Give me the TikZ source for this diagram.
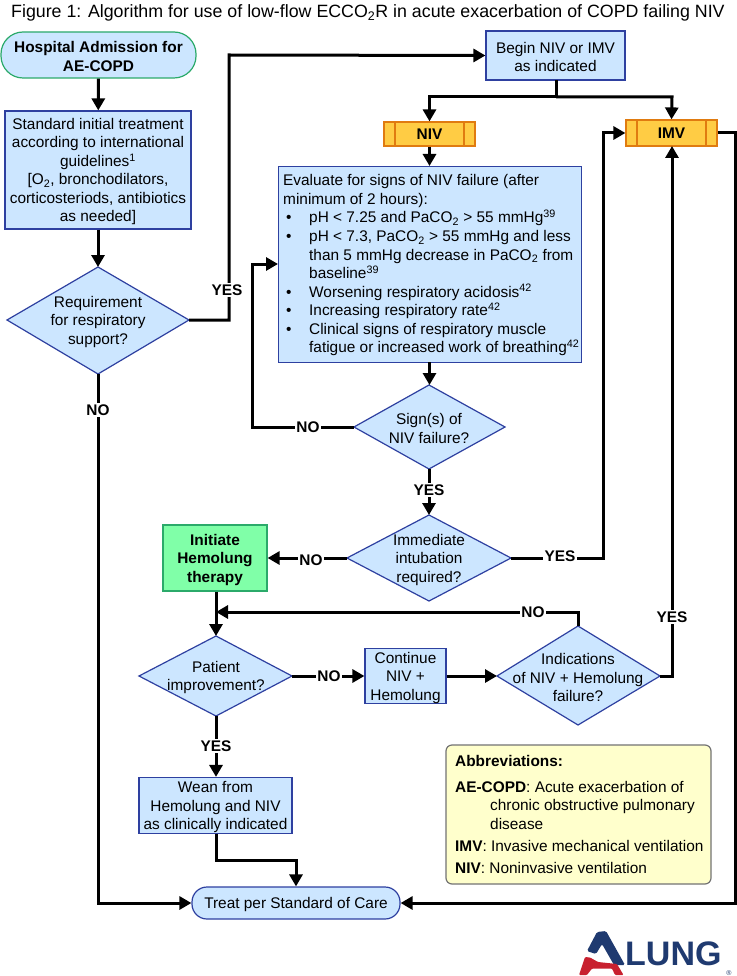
\documentclass[tikz,border=0pt]{standalone}
\usepackage{fontspec}
\setmainfont{Liberation Sans}
\usetikzlibrary{arrows.meta,shapes.geometric,calc}
\definecolor{bfill}{HTML}{CCE6FF}
\definecolor{bline}{HTML}{2E40A0}
\definecolor{gline}{HTML}{2BAA6A}
\definecolor{hfill}{HTML}{80FFA8}
\definecolor{ofill}{HTML}{FFCC44}
\definecolor{oline}{HTML}{E07B10}
\definecolor{yfill}{HTML}{FFFFCC}
\definecolor{logoblue}{HTML}{1F3A70}
\definecolor{logored}{HTML}{C8202F}
\newcommand{\sub}[1]{\textsubscript{#1}}
\newcommand{\sups}[1]{\textsuperscript{#1}}
\newcommand{\fl}{\rule{0pt}{14.5pt}}
\tikzset{
  x=1pt,y=-1pt,
  txt/.style={font=\fontsize{15.4}{18.5}\selectfont,align=center,inner sep=0pt,execute at begin node={\rule{0pt}{15pt}}},
  bx/.style={draw=bline,fill=bfill,line width=1.2pt,txt},
  dia/.style={bx},
  conn/.style={line width=3pt,draw=black,-{Triangle[length=12pt,width=13pt]}},
  plain/.style={line width=3pt,draw=black},
  lab/.style={fill=white,inner sep=1.5pt,font=\fontsize{15.4}{18.5}\selectfont\bfseries},
  orange/.style={draw=oline,fill=ofill,line width=1.2pt},
}
\begin{document}
\begin{tikzpicture}
\useasboundingbox (0,0) rectangle (736,976);
\fill[white] (0,0) rectangle (736,976);
\node[anchor=west,inner sep=0pt,font=\fontsize{17.8}{20}\selectfont] (title) at (11,13) {Figure 1: Algorithm for use of low-flow ECCO\sub{2}R in acute exacerbation of COPD failing NIV};

% boxes
\node[bx,draw=gline,rounded corners=22pt,minimum width=195pt,minimum height=46pt,font=\fontsize{15.4}{18.5}\selectfont\bfseries] (start) at (98.5,55) {\fl Hospital Admission for\\AE-COPD};
\node[bx,minimum width=186pt,minimum height=118pt] (std) at (98,170) {\fl Standard initial treatment\\according to international\\guidelines\sups{1}\\{[O\sub{2}, bronchodilators,}\\corticosteriods, antibiotics\\as needed]};
\path[draw=bline,fill=bfill,line width=1.2pt] (7,320) -- (98,267) -- (189,320) -- (98,374) -- cycle;
\node[txt] (req) at (98,320) {\fl Requirement\\for respiratory\\support?};
\coordinate (reqW) at (7,320);\coordinate (reqE) at (189,320);\coordinate (reqS) at (98,374);\coordinate (reqN) at (98,267);

\node[bx,minimum width=139pt,minimum height=49pt] (begin) at (555.5,55.5) {\fl Begin NIV or IMV\\as indicated};

\node[orange,minimum width=91pt,minimum height=24pt,inner sep=0pt,font=\fontsize{15.4}{18.5}\selectfont\bfseries] (niv) at (429.5,134) {NIV};
\draw[oline,line width=1.2pt] (395,122) -- (395,146) (464,122) -- (464,146);
\node[orange,minimum width=91pt,minimum height=26pt,inner sep=0pt,font=\fontsize{15.4}{18.5}\selectfont\bfseries] (imv) at (671.5,133) {IMV};
\draw[oline,line width=1.2pt] (637,120) -- (637,146) (706,120) -- (706,146);

\node[draw=bline,fill=bfill,line width=1.2pt,minimum width=303pt,minimum height=196pt,inner sep=0pt,anchor=north west] (eval) at (278,166) {};
\begin{scope}[every node/.style={anchor=base west,inner sep=0pt,font=\fontsize{15.4}{18.5}\selectfont}]
\node (e1) at (283,186) {Evaluate for signs of NIV failure (after};
\node (e2) at (283,204.5) {minimum of 2 hours):};
\node (b1) at (286,223) {•}; \node (t1) at (309,223) {pH < 7.25 and PaCO\sub{2} > 55 mmHg\sups{39}};
\node (b2) at (286,241.5) {•}; \node (t2) at (309,241.5) {pH < 7.3, PaCO\sub{2} > 55 mmHg and less};
\node (t3) at (309,260) {than 5 mmHg decrease in PaCO\sub{2} from};
\node (t4) at (309,278.5) {baseline\sups{39}};
\node (b3) at (286,297) {•}; \node (t5) at (309,297) {Worsening respiratory acidosis\sups{42}};
\node (b4) at (286,315.5) {•}; \node (t6) at (309,315.5) {Increasing respiratory rate\sups{42}};
\node (b5) at (286,334) {•}; \node (t7) at (309,334) {Clinical signs of respiratory muscle};
\node (t8) at (309,352.5) {fatigue or increased work of breathing\sups{42}};
\end{scope}

\path[draw=bline,fill=bfill,line width=1.2pt] (354,427) -- (429,385) -- (505,427) -- (429,469) -- cycle;
\node[txt] (sign) at (429,427) {\fl Sign(s) of\\NIV failure?};
\coordinate (signW) at (354,427);\coordinate (signS) at (429,469);\coordinate (signN) at (429,385);

\path[draw=bline,fill=bfill,line width=1.2pt] (347,558) -- (429,515) -- (511,558) -- (429,601) -- cycle;
\node[txt] (imm) at (429,558) {\fl Immediate\\intubation\\required?};
\coordinate (immW) at (347,558);\coordinate (immE) at (511,558);\coordinate (immN) at (429,515);

\node[bx,draw=gline,fill=hfill,minimum width=104pt,minimum height=66pt,font=\fontsize{15.4}{18.5}\selectfont\bfseries] (init) at (215,558) {\fl Initiate\\Hemolung\\therapy};

\path[draw=bline,fill=bfill,line width=1.2pt] (139,676) -- (216,636) -- (292,676) -- (216,716) -- cycle;
\node[txt] (pat) at (216,676) {\fl Patient\\improvement?};
\coordinate (patE) at (292,676);\coordinate (patS) at (216,716);\coordinate (patN) at (216,636);

\node[bx,minimum width=81pt,minimum height=55pt] (cont) at (405.5,676) {\fl Continue\\NIV +\\Hemolung};

\path[draw=bline,fill=bfill,line width=1.2pt] (497,676) -- (578,626) -- (660,676) -- (578,725) -- cycle;
\node[txt] (ind) at (578,676) {\fl Indications\\of NIV + Hemolung\\failure?};
\coordinate (indW) at (497,676);\coordinate (indE) at (660,676);\coordinate (indN) at (578,626);

\node[bx,minimum width=153pt,minimum height=56pt] (wean) at (215.5,805.5) {\fl Wean from\\Hemolung and NIV\\as clinically indicated};
\node[bx,rounded corners=15pt,minimum width=208pt,minimum height=32pt] (treat) at (296,903) {Treat per Standard of Care};

% connectors
\draw[conn] (start) -- (std);
\draw[conn] (std) -- (reqN);
\coordinate (c1) at (229,320);\coordinate (c2) at (229,55);
\draw[conn] (reqE) -- (c1) -- (c2) -- (begin.west);
\coordinate (c3) at (556,97);\coordinate (c4) at (429.5,97);\coordinate (c5) at (672,97);\coordinate (b0) at (556,80);
\draw[plain] (b0) -- (c3);
\draw[conn] (c3) -- (c4) -- (niv.north);
\draw[conn] (c3) -- (c5) -- (imv.north);
\coordinate (en) at (429.5,166);
\draw[conn] (niv.south) -- (en);
\coordinate (es) at (429.5,362);
\draw[conn] (es) -- ($(signN)+(0.5,0)$);
\coordinate (c6) at (252,427);\coordinate (c7) at (252,264);\coordinate (ew) at (278,264);
\draw[conn] (signW) -- (c6) -- (c7) -- (ew);
\draw[conn] (signS) -- (immN);
\draw[conn] (immW) -- (init.east);
\coordinate (c8) at (603,558);\coordinate (c9) at (603,133);
\draw[conn] (immE) -- (c8) -- (c9) -- (imv.west);
\draw[conn] (init.south -| patN) -- (patN);
\coordinate (c10) at (578,612);\coordinate (c11) at (216,612);
\draw[conn] (indN) -- (c10) -- (c11);
\draw[conn] (patE) -- (cont.west);
\draw[conn] (cont.east) -- (indW);
\coordinate (c12) at (672,676);\coordinate (c13) at (672,146);
\draw[conn] (indE) -- (c12) -- (c13);
\draw[conn] (patS) -- (wean.north -| patS);
\coordinate (c14) at (216,860);\coordinate (c15) at (296,860);
\draw[conn] (wean.south -| patS) -- (c14) -- (c15) -- (treat.north);
\coordinate (c16) at (98,903);
\draw[conn] (reqS) -- (c16) -- (treat.west);
\coordinate (c17) at (735,133);\coordinate (c18) at (735,903);
\draw[conn] (imv.east) -- (c17) -- (c18) -- (treat.east);

% labels
\node[lab] (yes1) at (227,290) {YES};
\node[lab] (no1) at (98,410) {NO};
\node[lab] (no2) at (308,427) {NO};
\node[lab] (yes2) at (429,490) {YES};
\node[lab] (no3) at (311,560) {NO};
\node[lab] (yes3) at (560,556) {YES};
\node[lab] (no4) at (533,612) {NO};
\node[lab] (no5) at (329,676) {NO};
\node[lab] (yes4) at (672,617) {YES};
\node[lab] (yes5) at (216,746) {YES};

% abbreviations
\node[draw=black!55,fill=yfill,line width=1.2pt,rounded corners=6pt,minimum width=265pt,minimum height=139pt] (abbr) at (578.5,814.5) {};
\begin{scope}[every node/.style={anchor=base west,inner sep=0pt,font=\fontsize{15.4}{18.5}\selectfont}]
\node (a1) at (455,766) {\textbf{Abbreviations:}};
\node (a2) at (455,792) {\textbf{AE-COPD}: Acute exacerbation of};
\node (a3) at (490,810) {chronic obstructive pulmonary};
\node (a4) at (490,829) {disease};
\node (a5) at (455,851) {\textbf{IMV}: Invasive mechanical ventilation};
\node (a6) at (455,873) {\textbf{NIV}: Noninvasive ventilation};
\end{scope}

% logo
\fill[logoblue,rounded corners=1.5pt] (587,951) -- (597,932) -- (606,931) -- (625,965) -- (614,965) -- (602,944) -- (596,954) -- cycle;
\fill[logored,rounded corners=1pt] (579,975) -- (585,957) -- (590,957.5) -- (598,962) -- (617,964) -- (623.5,975) -- (615,975) -- (612,968.5) -- (592,968.5) -- (587,975) -- cycle;
\node[anchor=base west,inner sep=0pt,text=logoblue,font=\fontsize{34}{34}\selectfont\bfseries] (logo) at (625,965) {LUNG};
\node[inner sep=0pt,text=logoblue,font=\fontsize{7}{7}\selectfont] (reg) at (729,973) {®};
\end{tikzpicture}
\end{document}
